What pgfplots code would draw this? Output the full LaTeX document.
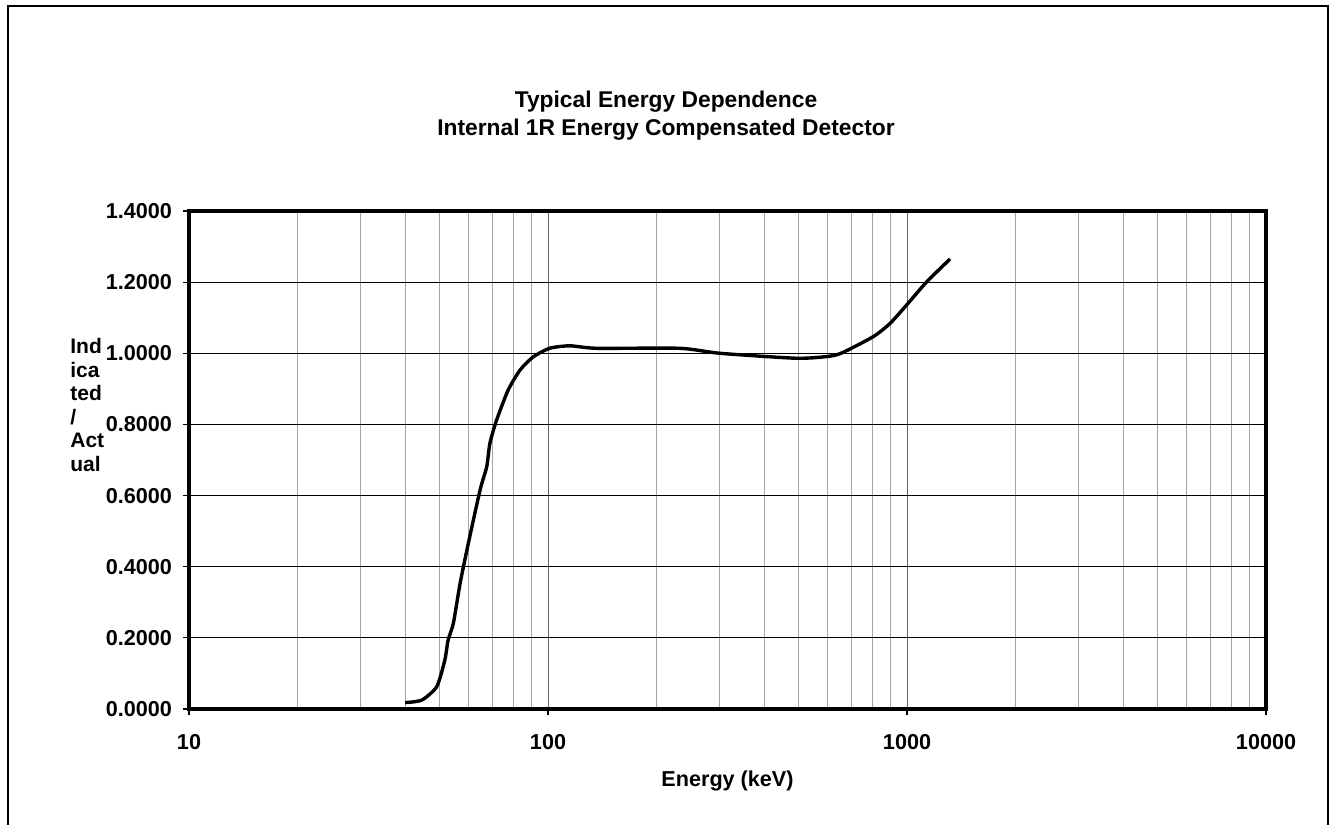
\documentclass[border=0pt]{standalone}
\usepackage{pgfplots}
\pgfplotsset{compat=1.18}
\usepackage{fontspec}
\setmainfont{Liberation Sans}
\begin{document}
\begin{tikzpicture}
\path[use as bounding box] (0pt,0pt) rectangle (666pt,412pt);
\draw[black, line width=1pt] (4pt,-5pt) rectangle (664pt,409pt);
\node[font=\fontsize{11.4}{12}\selectfont\bfseries] at (333pt,361pt) {Typical Energy Dependence};
\node[font=\fontsize{11.4}{12}\selectfont\bfseries] at (333pt,347pt) {Internal 1R Energy Compensated Detector};
\node[font=\fontsize{10.5}{11.7}\selectfont\bfseries, align=left, anchor=west, inner sep=0pt] at (35pt,209.5pt) {Ind\\ica\\ted\\/\\Act\\ual};
\begin{axis}[
  at={(94.5pt,57.5pt)}, anchor=south west,
  scale only axis, width=538.5pt, height=249pt,
  xmode=log, xmin=10, xmax=10000, ymin=0, ymax=1.4,
  log basis x=10,
  xtick={10,100,1000,10000}, xticklabels={10,100,1000,10000},
  minor xtick={20,30,40,50,60,70,80,90,200,300,400,500,600,700,800,900,2000,3000,4000,5000,6000,7000,8000,9000},
  ytick={0,0.2,0.4,0.6,0.8,1.0,1.2,1.4},
  yticklabel style={/pgf/number format/fixed, /pgf/number format/fixed zerofill, /pgf/number format/precision=4, /pgf/number format/assume math mode=true, xshift=-2pt},
  ticklabel style={font=\fontsize{10.8}{12}\selectfont\bfseries},
  xticklabel style={yshift=-6pt},
  xtick pos=left, ytick pos=left,
  tick align=outside, major tick length=3pt,
  minor tick length=0pt,
  tick style={black, line width=0.6pt},
  xmajorgrids, xminorgrids, ymajorgrids,
  major x grid style={draw=black!60, line width=0.5pt},
  minor x grid style={draw=black!35, line width=0.5pt},
  major y grid style={draw=black, line width=0.5pt},
  axis line style={line width=1.6pt},
  xlabel={Energy (keV)}, xlabel style={font=\fontsize{10.8}{12}\selectfont\bfseries, yshift=-4pt},
]
\addplot[black, line width=1.7pt, smooth, tension=0.4] coordinates {
(40,0.018) (44.5,0.025) (49,0.063) (51.6,0.138) (52.7,0.194) (54.5,0.241)
(56.9,0.353) (60,0.466) (64.7,0.616) (67.5,0.681) (68.9,0.747) (71.9,0.812)
(77.5,0.897) (83.6,0.953) (91,0.990) (101,1.014) (115,1.021) (137,1.014)
(233,1.014) (301,1.000) (493,0.986) (611,0.992) (665,1.003) (806,1.047)
(897,1.084) (998,1.136) (1135,1.201) (1318,1.265)
};
\end{axis}
\end{tikzpicture}
\end{document}
